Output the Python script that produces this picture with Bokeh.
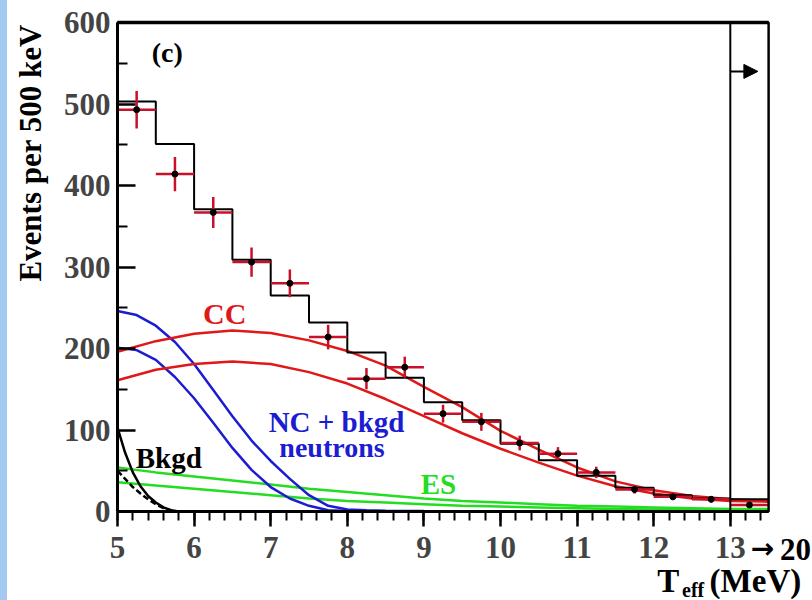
import math
from bokeh.plotting import figure
from bokeh.models import (Range1d, FixedTicker, Label, Arrow, NormalHead, Div,
                          ColumnDataSource, LinearAxis, BoxAnnotation)
from bokeh.layouts import row
from bokeh.embed import file_html
from bokeh.resources import INLINE

# ---------------- data ----------------
bin_edges = [5.0, 5.5, 6.0, 6.5, 7.0, 7.5, 8.0, 8.5, 9.0, 9.5, 10.0, 10.5,
             11.0, 11.5, 12.0, 12.5, 13.0, 13.5]
mc_total = [503, 451, 371, 309, 265, 232, 195, 164, 134, 112, 83, 63,
            44, 29, 20, 16, 15]

data_x = [5.25, 5.75, 6.25, 6.75, 7.25, 7.75, 8.25, 8.75, 9.25, 9.75,
          10.25, 10.75, 11.25, 11.75, 12.25, 12.75, 13.25]
data_y = [493, 414, 367, 306, 280, 214, 163, 177, 120, 110,
          84, 71, 48, 27, 18, 15, 8]
data_err = [23, 21, 19, 18, 17, 15, 13, 13, 11, 11,
            9, 8, 7, 5, 4, 4, 3]
data_halfwidth = [0.25] * 17

cc_x = [5.0, 5.5, 6.0, 6.5, 7.0, 7.5, 8.0, 8.5, 9.0, 9.5, 10.0, 10.5,
        11.0, 11.5, 12.0, 12.5, 13.0, 13.5]
cc_hi = [196, 209, 218, 222, 219, 210, 197, 179, 153, 128, 99, 76,
         54, 37, 26, 19, 15, 13]
cc_lo = [161, 174, 181, 184, 181, 171, 157, 138, 117, 96, 77, 60,
         44, 31, 22, 16, 13, 12]

nc_x = [5.0, 5.25, 5.5, 5.75, 6.0, 6.25, 6.5, 6.75, 7.0, 7.25, 7.5, 7.75,
        8.0, 8.25, 8.5, 9.0, 9.5, 10.0, 10.5]
nc_hi = [246, 241, 228, 208, 181, 149, 117, 87, 62, 40, 20, 7,
         2.5, 1.5, 1, 0.5, 0.3, 0.2, 0]
nc_lo = [201, 198, 186, 165, 139, 109, 78, 51, 30, 16, 7, 1.5,
         0.5, 0.3, 0, 0, 0, 0, 0]

es_x = [5.0, 5.5, 6.0, 6.5, 7.0, 7.5, 8.0, 8.5, 9.0, 9.5, 10.0, 10.5,
        11.0, 11.5, 12.0, 12.5, 13.0, 13.5]
es_hi = [54, 48, 43, 38, 33, 28, 24, 20, 16, 13, 11, 9, 7, 6, 5, 4, 3, 3]
es_lo = [36, 32, 28, 24, 20, 16, 13, 11, 9, 7, 6, 5, 4, 3, 2.5, 2, 1.5, 1]

bk_x = [5.0, 5.1, 5.2, 5.3, 5.4, 5.5, 5.6, 5.7, 5.8]
bk_hi = [103, 72, 48, 31, 19, 11, 5, 1.5, 0]
bk_lo = [50, 40, 30, 22, 15, 9, 4, 1, 0]

x_major = [5, 6, 7, 8, 9, 10, 11, 12, 13]
y_major = [0, 100, 200, 300, 400, 500, 600]

# ---------------- layout / styling ----------------
FONT = "Liberation Serif"
RED = "#e01818"
DRED = "#c8102a"
BLUE = "#1c1cd0"
GREEN = "#22dd22"

X_LO, X_HI = 5.0, 13.5      # drawn axis extent
Y_LO, Y_HI = 0, 600

# the frame fills the whole canvas; axes sit at fixed locations inside it
p = figure(width=805, height=600,
           x_range=Range1d(3.564, 14.073), y_range=Range1d(-109.2, 627.0),
           output_backend="svg", toolbar_location=None,
           x_axis_location=None, y_axis_location=None,
           min_border=0, min_border_left=0, min_border_right=0,
           min_border_top=0, min_border_bottom=0,
           background_fill_color="white", border_fill_color="white", margin=0)
p.outline_line_color = None
p.xgrid.visible = False
p.ygrid.visible = False

xa = LinearAxis(fixed_location=Y_LO, bounds=(X_LO, X_HI),
                ticker=FixedTicker(ticks=x_major,
                                   minor_ticks=[round(5 + 0.2 * i, 1) for i in range(43)]))
xa.axis_line_width = 3
xa.major_tick_in = 0
xa.major_tick_out = 15
xa.minor_tick_in = 0
xa.minor_tick_out = 9
xa.major_tick_line_width = 2.5
xa.minor_tick_line_width = 2
xa.major_label_text_font = FONT
xa.major_label_text_font_style = "bold"
xa.major_label_text_font_size = "31px"
xa.major_label_standoff = 10
p.add_layout(xa, "below")

ya = LinearAxis(fixed_location=X_LO, bounds=(Y_LO, Y_HI),
                ticker=FixedTicker(ticks=y_major, minor_ticks=[50 + 100 * i for i in range(6)]))
ya.axis_line_width = 3
ya.major_tick_in = 18
ya.major_tick_out = 0
ya.minor_tick_in = 10
ya.minor_tick_out = 0
ya.major_tick_line_width = 2.5
ya.minor_tick_line_width = 2
ya.major_label_text_font = FONT
ya.major_label_text_font_style = "bold"
ya.major_label_text_font_size = "31px"
ya.major_label_standoff = 7
p.add_layout(ya, "left")

# frame box, overflow-bin box and thick top edge
for left, bottom, lw in [(X_LO, Y_LO, 2), (13.0, Y_LO, 2), (X_LO, Y_HI, 3.5)]:
    p.add_layout(BoxAnnotation(left=left, right=X_HI, bottom=bottom, top=Y_HI,
                               fill_color=None, fill_alpha=0, line_color="black",
                               line_alpha=1.0, line_width=lw))

# curves
p.line(es_x, es_hi, line_color=GREEN, line_width=2.5)
p.line(es_x, es_lo, line_color=GREEN, line_width=2.5)
p.line(bk_x, bk_hi, line_color="black", line_width=2.5)
p.line(bk_x, bk_lo, line_color="black", line_width=2.5, line_dash="6 3")
p.line(nc_x, nc_hi, line_color=BLUE, line_width=2.5)
p.line(nc_x, nc_lo, line_color=BLUE, line_width=2.5)
p.line(cc_x, cc_hi, line_color=RED, line_width=2.5)
p.line(cc_x, cc_lo, line_color=RED, line_width=2.5)

# MC histogram
p.step(bin_edges, mc_total + [mc_total[-1]], mode="after", line_color="black", line_width=2)

# data points with error bars
src = ColumnDataSource(dict(
    x=data_x, y=data_y,
    x0=[a - h for a, h in zip(data_x, data_halfwidth)],
    x1=[a + h for a, h in zip(data_x, data_halfwidth)],
    y0=[a - e for a, e in zip(data_y, data_err)],
    y1=[a + e for a, e in zip(data_y, data_err)],
))
p.segment(x0="x0", y0="y", x1="x1", y1="y", source=src, line_color=DRED, line_width=2.5)
p.segment(x0="x", y0="y0", x1="x", y1="y1", source=src, line_color=DRED, line_width=2.5)
p.scatter(x="x", y="y", source=src, size=6, color="black")

# overflow arrow
p.add_layout(Arrow(x_start=13.0, y_start=540, x_end=13.36, y_end=540, line_width=2,
                   end=NormalHead(size=14, fill_color="black", line_color="black")))


def lab(txt, x, y, color="black", size="30px", align="center", baseline="middle",
        angle=0.0, font=FONT):
    p.add_layout(Label(x=x, y=y, text=txt, text_color=color, text_font=font,
                       text_font_style="bold", text_font_size=size, text_align=align,
                       text_baseline=baseline, angle=angle))


lab("(c)", 5.65, 563, size="28px")
lab("CC", 6.4, 243, color=RED)
lab("NC + bkgd", 7.86, 110, color=BLUE, size="29px")
lab("neutrons", 7.8, 79, color=BLUE, size="28px")
lab("Bkgd", 5.67, 66, size="29px")
lab("ES", 9.19, 34, color=GREEN, size="29px")

# axis titles and extra tick text
lab("Events per 500 keV", 3.86, 598, size="31px", align="right", angle=math.pi / 2)
lab("\u2192", 13.42, -46, size="28px", font="DejaVu Sans")
lab("20", 13.85, -47, size="31px")
lab("T", 12.19, -85, size="33px")
lab("eff", 12.37, -96, size="20px", align="left")
lab("(MeV)", 12.73, -85, size="33px", align="left")

strip = Div(text="", width=7, height=600, margin=0,
            styles={"background-color": "#a3c9f2"})
layout = row(strip, p, spacing=0, margin=0)

open("out.html", "w").write(file_html(layout, INLINE))
